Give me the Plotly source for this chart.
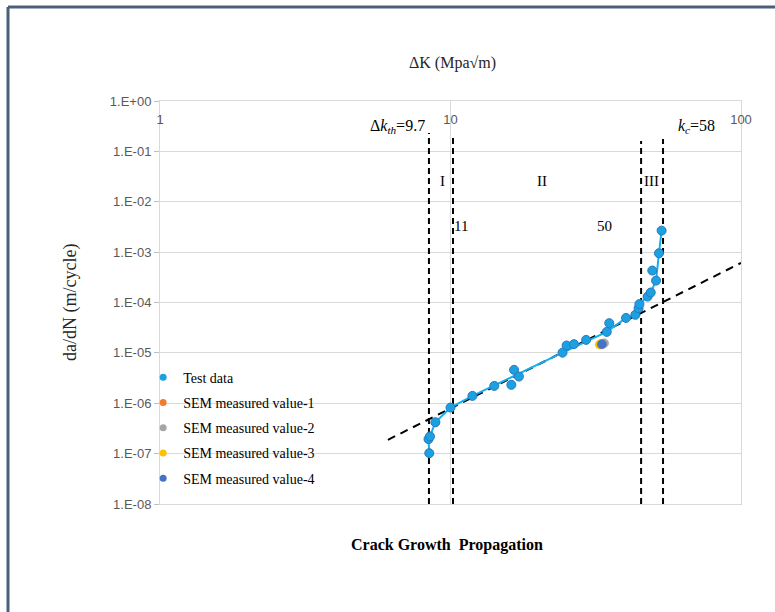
import numpy as np
import plotly.graph_objects as go

# Fatigue crack growth test data: stress intensity range vs crack growth rate
test_dk = [8.45, 8.40, 8.50, 8.87, 10.0, 11.9, 14.15, 16.2, 16.55, 17.2, 24.3, 25.1,
           26.6, 29.3, 34.5, 35.2, 40.2, 43.3, 44.4, 44.7, 47.7, 48.9, 51.0, 49.5, 52.2, 53.3]
test_dadn = [1.02e-7, 1.94e-7, 2.2e-7, 4.2e-7, 8.2e-7, 1.40e-6, 2.21e-6, 2.32e-6, 4.6e-6,
             3.39e-6, 1.01e-5, 1.40e-5, 1.49e-5, 1.81e-5, 2.61e-5, 3.89e-5, 4.94e-5, 5.7e-5,
             7.7e-5, 9.3e-5, 1.31e-4, 1.58e-4, 2.72e-4, 4.3e-4, 9.5e-4, 2.67e-3]

# Smoothed growth curve through the test data
curve_dk = [8.45, 8.40, 8.50, 8.87, 10.0, 11.9, 24.3, 34.5, 40.2, 43.3, 44.7, 47.7,
            48.9, 51.0, 52.2, 53.3]
curve_dadn = [1.02e-7, 1.94e-7, 2.2e-7, 4.2e-7, 8.2e-7, 1.40e-6, 1.01e-5, 2.61e-5,
              4.94e-5, 5.7e-5, 9.3e-5, 1.31e-4, 1.58e-4, 2.72e-4, 9.5e-4, 2.67e-3]

# SEM measured values
sem_names = ["SEM measured value-1", "SEM measured value-2",
             "SEM measured value-3", "SEM measured value-4"]
sem_colors = ["#ED7D31", "#A5A5A5", "#FFC000", "#4472C4"]
sem_dk = [33.0, 33.8, 32.6, 33.2]
sem_dadn = [1.50e-5, 1.56e-5, 1.46e-5, 1.48e-5]

# Paris-law (region II) extension line
paris_dk = [6.09, 100]
paris_dadn = [1.88e-7, 6.1e-4]

# Region boundaries (vertical dashed lines) and their top ends
boundary_dk = [8.43, 10.2, 45.3, 53.9]
boundary_top = [0.232, 0.202, 0.161, 0.176]
axis_bottom = 1e-8

# Axis ticks
x_ticks = [1, 10, 100]
x_ticktext = ["1", "10", "100"]
y_ticks = [1e0, 1e-1, 1e-2, 1e-3, 1e-4, 1e-5, 1e-6, 1e-7, 1e-8]
y_ticktext = ["1.E+00", "1.E-01", "1.E-02", "1.E-03", "1.E-04",
              "1.E-05", "1.E-06", "1.E-07", "1.E-08"]

SERIF = "Liberation Serif, Times New Roman, serif"
TICK_FONT = dict(family="Liberation Sans, Arial", size=13, color="#595959")
TEST_FILL = "#1BA1E2"
TEST_EDGE = "#2A78BD"

fig = go.Figure()

# Boundary lines
for bx, bt in zip(boundary_dk, boundary_top):
    fig.add_trace(go.Scatter(x=[bx, bx], y=[axis_bottom, bt], mode="lines",
                             line=dict(color="black", width=2, dash="6px,4px"),
                             showlegend=False, hoverinfo="skip", cliponaxis=False))

# Paris line
fig.add_trace(go.Scatter(x=paris_dk, y=paris_dadn, mode="lines",
                         line=dict(color="black", width=2, dash="8px,6px"),
                         showlegend=False, hoverinfo="skip"))

# Growth curve
fig.add_trace(go.Scatter(x=curve_dk, y=curve_dadn, mode="lines",
                         line=dict(color="#14B0EE", width=2),
                         showlegend=False, hoverinfo="skip"))

# Test data markers
fig.add_trace(go.Scatter(x=test_dk, y=test_dadn, mode="markers", name="Test data",
                         marker=dict(size=9, color=TEST_FILL,
                                     line=dict(color=TEST_EDGE, width=1)),
                         showlegend=False))

# SEM markers
for nm, c, xv, yv in zip(sem_names, sem_colors, sem_dk, sem_dadn):
    fig.add_trace(go.Scatter(x=[xv], y=[yv], mode="markers", name=nm,
                             marker=dict(size=9, color=c, line=dict(color=c, width=0.5)),
                             showlegend=False))

# Legend entries (small symbols)
legend_items = [("Test data", TEST_FILL)] + list(zip(sem_names, sem_colors))
for i, (nm, c) in enumerate(legend_items):
    fig.add_trace(go.Scatter(x=[None], y=[None], mode="markers", name=nm,
                             legendgroup=f"g{i}",
                             marker=dict(size=7, color=c), showlegend=True))

label_font = dict(family=SERIF, size=15, color="black")
annotations = [
    dict(text="Δ<i>k</i><sub><i>th</i></sub>=9.7", x=np.log10(8.3), y=np.log10(0.305),
         xanchor="right", yanchor="middle", font=dict(family=SERIF, size=16, color="black")),
    dict(text="<i>k</i><sub><i>c</i></sub>=58", x=np.log10(59.7), y=np.log10(0.305),
         xanchor="left", yanchor="middle", font=dict(family=SERIF, size=16, color="black")),
    dict(text="I", x=np.log10(9.42), y=np.log10(0.0259)),
    dict(text="II", x=np.log10(20.65), y=np.log10(0.0259)),
    dict(text="III", x=np.log10(49.0), y=np.log10(0.0259)),
    dict(text="11", x=np.log10(10.86), y=np.log10(0.00331)),
    dict(text="50", x=np.log10(34.0), y=np.log10(0.00331)),
]
for a in annotations:
    a.update(xref="x", yref="y", showarrow=False)
    a.setdefault("font", label_font)
    a.setdefault("xanchor", "center")
    a.setdefault("yanchor", "middle")

annotations += [
    dict(text="ΔK (Mpa√m)", xref="paper", yref="paper", x=0.504, y=1.094,
         xanchor="center", yanchor="middle", showarrow=False,
         font=dict(family=SERIF, size=16, color="#262626")),
    dict(text="da/dN (m/cycle)", xref="paper", yref="paper", x=-0.155, y=0.501,
         xanchor="center", yanchor="middle", textangle=-90, showarrow=False,
         font=dict(family=SERIF, size=18, color="#262626")),
    dict(text="<b>Crack Growth\u00a0 Propagation</b>", xref="paper", yref="paper",
         x=0.494, y=-0.102, xanchor="center", yanchor="middle", showarrow=False,
         font=dict(family=SERIF, size=16, color="black")),
]

GRID = "#D9D9D9"
fig.update_layout(
    width=775, height=612,
    margin=dict(l=160, r=34, t=101, b=108),
    paper_bgcolor="white", plot_bgcolor="white",
    xaxis=dict(type="log", range=[0, 2], side="top", tickvals=x_ticks, ticktext=x_ticktext,
               ticklabelposition="outside", ticklabelstandoff=-29, ticklabeloverflow="allow",
               ticks="", showgrid=True, gridcolor=GRID,
               showline=True, linecolor=GRID, mirror=True, zeroline=False,
               tickfont=TICK_FONT),
    yaxis=dict(type="log", range=[-8, 0], tickvals=y_ticks, ticktext=y_ticktext,
               ticks="outside", ticklen=5, tickcolor="#BFBFBF", showgrid=True,
               gridcolor=GRID, showline=True, linecolor=GRID, mirror=True,
               zeroline=False, ticklabeloverflow="allow", tickfont=TICK_FONT),
    legend=dict(x=-0.029, y=0.353, xanchor="left", yanchor="top",
                bgcolor="rgba(0,0,0,0)", traceorder="grouped", tracegroupgap=4,
                font=dict(family=SERIF, size=14, color="black")),
    annotations=annotations,
    shapes=[
        dict(type="line", xref="paper", yref="paper", x0=-0.2616, x1=1.09,
             y0=1.2333, y1=1.2333, line=dict(color="#4A5F7A", width=3)),
        dict(type="line", xref="paper", yref="paper", x0=-0.2616, x1=-0.2616,
             y0=1.2333, y1=-0.29, line=dict(color="#4A5F7A", width=3)),
    ],
    showlegend=True,
)

fig.write_html("out.html")
